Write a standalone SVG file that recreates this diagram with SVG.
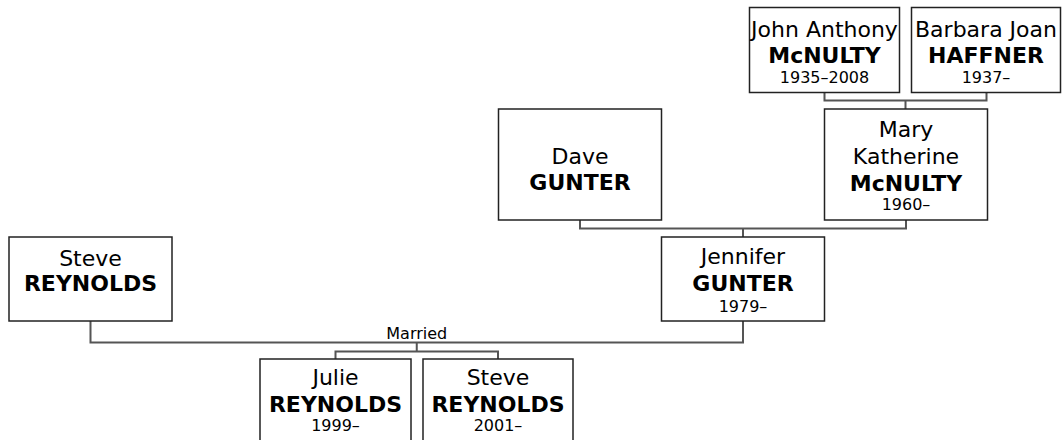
<svg xmlns="http://www.w3.org/2000/svg" width="1062" height="440" viewBox="0 0 1062 440">
<style>
.box{fill:#fff;stroke:#222;stroke-width:1.5}
.con{fill:none;stroke:#555;stroke-width:2}
text{font-family:"DejaVu Sans",Verdana,sans-serif;text-anchor:middle;fill:#000}
.n{font-size:22px}
.s{font-size:22px;font-weight:bold}
.d{font-size:16px}
.l{font-size:16px}
</style>
<rect width="1062" height="440" fill="#fff"/>
<g id="connectors">
<path class="con" d="M824.5 92.5 V100.5 H986.5 V92.5 M905.5 100.5 V109"/>
<path class="con" d="M580 220 V228.5 H906 V220 M743 228.5 V237"/>
<path class="con" d="M90.5 321 V342.5 H743 V321"/>
<path class="con" d="M416.75 342.5 V351.5 M335.5 359 V351.5 H498 V359"/>
<text class="l" x="416.75" y="339">Married</text>
</g>
<g id="john">
<rect class="box" x="749.5" y="7.5" width="150" height="85"/>
<text class="n" x="824.5" y="36.7">John Anthony</text>
<text class="s" x="824.5" y="63.3">McNULTY</text>
<text class="d" x="824.5" y="82.7">1935–2008</text>
</g>
<g id="barbara">
<rect class="box" x="911.5" y="7.5" width="149" height="85"/>
<text class="n" x="986" y="36.7">Barbara Joan</text>
<text class="s" x="986" y="63.3">HAFFNER</text>
<text class="d" x="986" y="82.7">1937–</text>
</g>
<g id="mary">
<rect class="box" x="824.5" y="109" width="163" height="111"/>
<text class="n" x="906" y="136.7">Mary</text>
<text class="n" x="906" y="164">Katherine</text>
<text class="s" x="906" y="190.7">McNULTY</text>
<text class="d" x="906" y="210">1960–</text>
</g>
<g id="dave">
<rect class="box" x="498.5" y="109" width="163" height="111"/>
<text class="n" x="580" y="164.3">Dave</text>
<text class="s" x="580" y="190">GUNTER</text>
</g>
<g id="jennifer">
<rect class="box" x="661.5" y="237" width="163" height="84"/>
<text class="n" x="743" y="264.3">Jennifer</text>
<text class="s" x="743" y="290.7">GUNTER</text>
<text class="d" x="743" y="312">1979–</text>
</g>
<g id="steve">
<rect class="box" x="9" y="237" width="163" height="84"/>
<text class="n" x="90.5" y="265.7">Steve</text>
<text class="s" x="90.5" y="290.7">REYNOLDS</text>
</g>
<g id="julie">
<rect class="box" x="260" y="359" width="151" height="100"/>
<text class="n" x="335.5" y="385">Julie</text>
<text class="s" x="335.5" y="411.7">REYNOLDS</text>
<text class="d" x="335.5" y="430.7">1999–</text>
</g>
<g id="steve2">
<rect class="box" x="423" y="359" width="150" height="100"/>
<text class="n" x="498" y="385">Steve</text>
<text class="s" x="498" y="411.7">REYNOLDS</text>
<text class="d" x="498" y="430.7">2001–</text>
</g>
</svg>
